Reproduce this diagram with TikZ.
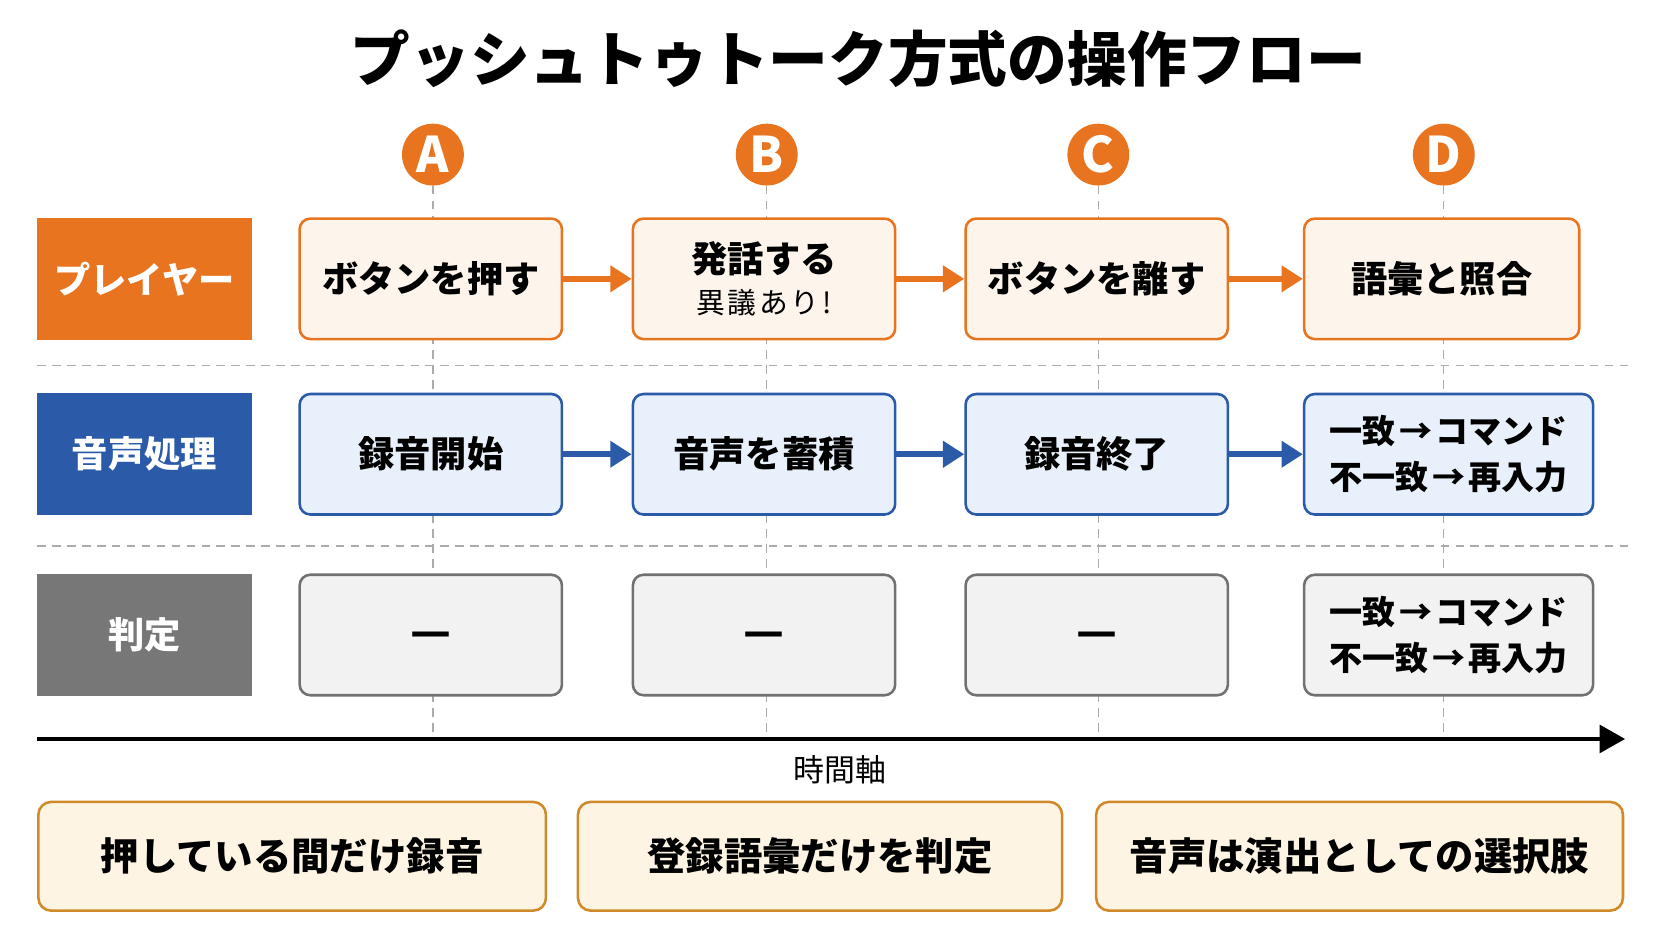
\documentclass[tikz,border=0pt]{standalone}
\usepackage{fontspec}
\setmainfont{Noto Sans CJK JP}
\usetikzlibrary{arrows.meta}
\definecolor{orng}{HTML}{E8741F}
\definecolor{ocream}{HTML}{FDF5EC}
\definecolor{blu}{HTML}{2B5BA8}
\definecolor{bfill}{HTML}{E8F1FB}
\definecolor{gry}{HTML}{777777}
\definecolor{gfill}{HTML}{F2F2F2}
\definecolor{gold}{HTML}{D08A2A}
\definecolor{ycream}{HTML}{FDF4E3}
\definecolor{dsh}{HTML}{ABABAB}
\newcommand{\arr}{\hspace{1.5pt}→\hspace{1.5pt}}
\newcommand{\nodash}{\raisebox{-6pt}{—}}
\tikzset{
  lanelbl/.style={minimum width=100.5pt, minimum height=57pt, inner sep=0pt, text=white,
    font=\bfseries\fontsize{17}{20}\selectfont},
  stepbox/.style={rounded corners=5pt, line width=1.2pt, minimum width=123pt,
    minimum height=56.5pt, inner sep=0pt, align=center, font=\bfseries\fontsize{17}{20}\selectfont},
  pbox/.style={stepbox, draw=orng, fill=ocream},
  abox/.style={stepbox, draw=blu, fill=bfill},
  jbox/.style={stepbox, draw=gry!95!black, fill=gfill},
  dashbox/.style={jbox, font=\bfseries\fontsize{21}{21}\selectfont, text height=0pt, text depth=0pt},
  two/.style={font=\bfseries\fontsize{15.5}{21.5}\selectfont},
  circ/.style={circle, fill=orng, minimum size=29pt, inner sep=0pt, text=white,
    font=\bfseries\fontsize{23}{23}\selectfont},
  oarrow/.style={draw=orng, line width=3pt, -{Triangle[length=10pt,width=12pt]}},
  barrow/.style={draw=blu, line width=3pt, -{Triangle[length=10pt,width=12pt]}},
  vdash/.style={draw=dsh, line width=0.6pt, dash pattern=on 4pt off 3pt},
  hdash/.style={draw=dsh, line width=0.7pt, dash pattern=on 4pt off 3pt},
  note/.style={rounded corners=6pt, draw=gold, fill=ycream, line width=1.2pt, minimum height=51pt,
    inner sep=0pt, font=\bfseries\fontsize{18}{20}\selectfont},
}
\begin{document}
\begin{tikzpicture}[x=0.5pt, y=-0.5pt]
\useasboundingbox[fill=white] (0,0) rectangle (1568,882);
% title
\node[font=\bfseries\fontsize{28}{32}\selectfont] (title) at (805,55) {プッシュトゥトーク方式の操作フロー};
% circles
\node[circ] (cA) at (406,145) {A};
\node[circ] (cB) at (719,145) {B};
\node[circ] (cC) at (1030,145) {C};
\node[circ] (cD) at (1354,145) {D};
% axis coordinates
\coordinate (tA) at (406,693);
\coordinate (tB) at (719,693);
\coordinate (tC) at (1030,693);
\coordinate (tD) at (1354,693);
\draw[vdash] (cA.south) -- (tA);
\draw[vdash] (cB.south) -- (tB);
\draw[vdash] (cC.south) -- (tC);
\draw[vdash] (cD.south) -- (tD);
% separators
\coordinate (s1l) at (35,343); \coordinate (s1r) at (1528,343);
\coordinate (s2l) at (35,512); \coordinate (s2r) at (1528,512);
\draw[hdash] (s1l) -- (s1r);
\draw[hdash] (s2l) -- (s2r);
% lane labels
\node[lanelbl, fill=orng] (lp) at (135.5,261.5) {プレイヤー};
\node[lanelbl, fill=blu] (la) at (135.5,426) {音声処理};
\node[lanelbl, fill=gry] (lj) at (135.5,595.5) {判定};
% row 1
\node[pbox] (p1) at (404,261.5) {ボタンを押す};
\node[pbox] (p2) at (716.5,261.5) {発話する\\[-1pt]{\mdseries\fontsize{13.5}{16}\selectfont\addfontfeature{LetterSpace=9}異議あり!}};
\node[pbox] (p3) at (1028.5,261.5) {ボタンを離す};
\node[pbox, minimum width=129pt] (p4) at (1352,261.5) {語彙と照合};
\draw[oarrow] (p1.east) -- (p2.west);
\draw[oarrow] (p2.east) -- (p3.west);
\draw[oarrow] (p3.east) -- (p4.west);
% row 2
\node[abox] (a1) at (404,426) {録音開始};
\node[abox] (a2) at (716.5,426) {音声を蓄積};
\node[abox] (a3) at (1028.5,426) {録音終了};
\node[abox, two, minimum width=135.5pt] (a4) at (1358.5,426) {一致\arr コマンド\\不一致\arr 再入力};
\draw[barrow] (a1.east) -- (a2.west);
\draw[barrow] (a2.east) -- (a3.west);
\draw[barrow] (a3.east) -- (a4.west);
% row 3
\node[dashbox] (j1) at (404,595.5) {\nodash};
\node[dashbox] (j2) at (716.5,595.5) {\nodash};
\node[dashbox] (j3) at (1028.5,595.5) {\nodash};
\node[jbox, two, minimum width=135.5pt] (j4) at (1358.5,595.5) {一致\arr コマンド\\不一致\arr 再入力};
% time axis
\coordinate (ax0) at (35,693);
\coordinate (ax1) at (1524,693);
\draw[line width=2pt, -{Triangle[length=12pt,width=13pt]}] (ax0) -- (ax1);
\node[font=\fontsize{14.5}{16}\selectfont] (axl) at (788,722) {時間軸};
% notes
\node[note, minimum width=238pt] (n1) at (274,803) {押している間だけ録音};
\node[note, minimum width=227pt] (n2) at (769,803) {登録語彙だけを判定};
\node[note, minimum width=247pt] (n3) at (1275,803) {音声は演出としての選択肢};
\end{tikzpicture}
\end{document}
